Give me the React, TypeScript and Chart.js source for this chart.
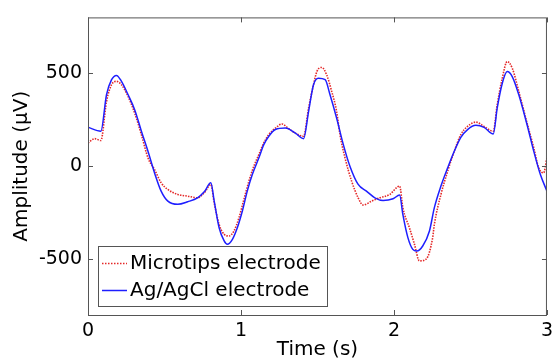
import React, { useEffect, useRef } from "react";
import { Chart, registerables } from "chart.js";

Chart.register(...registerables);

const xTicks = [0, 1, 2, 3];
const yTicks = [-500, 0, 500];
const seriesLabels = ["Microtips electrode", "Ag/AgCl electrode"];

// Microtips electrode (red dotted)
const microT = [0, 0.045, 0.084, 0.121, 0.154, 0.186, 0.219, 0.262, 0.305, 0.349, 0.392, 0.435, 0.478, 0.522, 0.587, 0.652, 0.716, 0.76, 0.803, 0.825, 0.857, 0.89, 0.922, 0.954, 0.987, 1.019, 1.052, 1.084, 1.117, 1.149, 1.182, 1.225, 1.268, 1.312, 1.355, 1.409, 1.442, 1.474, 1.496, 1.528, 1.56, 1.593, 1.625, 1.647, 1.68, 1.723, 1.766, 1.799, 1.853, 1.907, 1.972, 2.037, 2.058, 2.101, 2.134, 2.166, 2.21, 2.253, 2.264, 2.307, 2.351, 2.394, 2.437, 2.481, 2.535, 2.589, 2.649, 2.675, 2.708, 2.74, 2.773, 2.816, 2.87, 2.914, 2.946, 2.978, 3.0];
const microV = [125, 148, 138, 348, 438, 456, 438, 375, 286, 170, 45, -18, -89, -125, -152, -161, -170, -143, -98, -197, -313, -366, -375, -348, -277, -179, -80, 0, 63, 125, 170, 205, 227, 202, 178, 161, 313, 438, 509, 531, 491, 402, 295, 170, 45, -80, -170, -209, -188, -170, -152, -107, -223, -331, -420, -509, -500, -384, -313, -152, -27, 80, 170, 214, 237, 214, 188, 331, 473, 563, 527, 402, 232, 98, -9, -36, 45];

// Ag/AgCl electrode (blue solid)
const agT = [0, 0.084, 0.121, 0.154, 0.186, 0.219, 0.262, 0.305, 0.349, 0.392, 0.435, 0.478, 0.522, 0.587, 0.652, 0.716, 0.76, 0.803, 0.825, 0.857, 0.89, 0.911, 0.944, 0.976, 1.009, 1.041, 1.074, 1.117, 1.149, 1.182, 1.225, 1.29, 1.355, 1.409, 1.442, 1.474, 1.506, 1.55, 1.582, 1.625, 1.669, 1.712, 1.766, 1.82, 1.875, 1.929, 1.994, 2.037, 2.058, 2.091, 2.123, 2.149, 2.188, 2.232, 2.264, 2.307, 2.351, 2.394, 2.437, 2.481, 2.535, 2.589, 2.649, 2.675, 2.708, 2.74, 2.773, 2.816, 2.87, 2.914, 2.957, 3.0];
const agV = [209, 188, 384, 465, 488, 456, 384, 304, 188, 80, -36, -134, -188, -205, -191, -170, -138, -89, -188, -331, -402, -420, -393, -331, -241, -134, -45, 45, 116, 161, 197, 205, 178, 148, 295, 438, 473, 465, 384, 259, 116, 0, -98, -134, -170, -184, -175, -155, -259, -384, -447, -456, -429, -348, -223, -107, -9, 80, 155, 197, 220, 209, 173, 313, 446, 509, 482, 384, 223, 80, -45, -134];

const FONT = "'DejaVu Sans', 'Liberation Sans', sans-serif";
const RED = "rgb(228, 40, 40)";
const BLUE = "rgb(30, 30, 255)";
const FRAME = "#555555";

export default function App() {
  const ref = useRef<HTMLCanvasElement>(null);

  useEffect(() => {
    if (!ref.current) return;

    const framePlugin = {
      id: "frameTicks",
      afterDatasetsDraw(chart: any) {
        const { ctx, chartArea: a, scales } = chart;
        const xs = scales.x;
        const ys = scales.y;
        ctx.save();
        ctx.strokeStyle = FRAME;
        ctx.lineWidth = 1;
        ctx.strokeRect(a.left + 0.5, a.top + 0.5, a.right - a.left - 1, a.bottom - a.top);
        ctx.beginPath();
        const tl = 5;
        xTicks.forEach((v) => {
          const px = Math.round(xs.getPixelForValue(v)) + 0.5;
          ctx.moveTo(px, a.bottom);
          ctx.lineTo(px, a.bottom - tl);
          ctx.moveTo(px, a.top);
          ctx.lineTo(px, a.top + tl);
        });
        yTicks.forEach((v) => {
          const py = Math.round(ys.getPixelForValue(v)) + 0.5;
          ctx.moveTo(a.left, py);
          ctx.lineTo(a.left + tl, py);
          ctx.moveTo(a.right, py);
          ctx.lineTo(a.right - tl, py);
        });
        ctx.stroke();
        ctx.restore();
      },
    };

    const legendPlugin = {
      id: "boxLegend",
      afterDraw(chart: any) {
        const { ctx, chartArea: a } = chart;
        const x0 = a.left + 10;
        const y0 = 246;
        const w = 229;
        const h = 60;
        ctx.save();
        ctx.fillStyle = "#ffffff";
        ctx.fillRect(x0, y0, w, h);
        ctx.strokeStyle = FRAME;
        ctx.lineWidth = 1;
        ctx.strokeRect(x0 + 0.5, y0 + 0.5, w, h);
        const rows = [y0 + 17, y0 + 44];
        const styles = [
          { color: RED, dash: [1.5, 1.5], width: 1.5 },
          { color: BLUE, dash: [], width: 1.5 },
        ];
        rows.forEach((ry, i) => {
          ctx.beginPath();
          ctx.setLineDash(styles[i].dash);
          ctx.strokeStyle = styles[i].color;
          ctx.lineWidth = styles[i].width;
          ctx.moveTo(x0 + 4, ry + 0.5);
          ctx.lineTo(x0 + 29, ry + 0.5);
          ctx.stroke();
          ctx.setLineDash([]);
          ctx.fillStyle = "#000000";
          ctx.font = `20px ${FONT}`;
          ctx.textAlign = "left";
          ctx.textBaseline = "middle";
          ctx.fillText(seriesLabels[i], x0 + 32, ry + 1);
        });
        ctx.restore();
      },
    };

    const chart = new Chart(ref.current, {
      type: "line",
      data: {
        datasets: [
          {
            label: seriesLabels[0],
            data: microT.map((t, i) => ({ x: t, y: microV[i] })),
            borderColor: RED,
            borderWidth: 1.6,
            borderDash: [1.5, 1.2],
            pointRadius: 0,
            cubicInterpolationMode: "monotone",
            fill: false,
            order: 1,
          },
          {
            label: seriesLabels[1],
            data: agT.map((t, i) => ({ x: t, y: agV[i] })),
            borderColor: BLUE,
            borderWidth: 1.5,
            pointRadius: 0,
            cubicInterpolationMode: "monotone",
            fill: false,
            order: 0,
          },
        ],
      },
      options: {
        animation: false,
        responsive: true,
        maintainAspectRatio: false,
        layout: { padding: { top: 15, right: 7, left: 0, bottom: 0 } },
        plugins: {
          legend: { display: false },
          tooltip: { enabled: false },
          title: { display: false },
        },
        scales: {
          x: {
            type: "linear",
            min: 0,
            max: 3,
            afterBuildTicks: (s: any) => {
              s.ticks = xTicks.map((v) => ({ value: v }));
            },
            afterFit: (s: any) => {
              s.height = 47;
            },
            grid: { display: false, drawTicks: false },
            border: { display: false },
            ticks: {
              color: "#000",
              font: { family: FONT, size: 19 },
              padding: 5,
              maxRotation: 0,
              callback: (v: any) => String(v),
            },
            title: {
              display: true,
              text: "Time (s)",
              color: "#000",
              font: { family: FONT, size: 20 },
              padding: { top: 0, bottom: 0 },
            },
          },
          y: {
            type: "linear",
            min: -800,
            max: 800,
            afterBuildTicks: (s: any) => {
              s.ticks = yTicks.map((v) => ({ value: v }));
            },
            afterFit: (s: any) => {
              s.width = 88;
            },
            grid: { display: false, drawTicks: false },
            border: { display: false },
            ticks: {
              color: "#000",
              font: { family: FONT, size: 19 },
              padding: 6,
              callback: (v: any) => String(v),
            },
            title: {
              display: true,
              text: "Amplitude (μV)",
              color: "#000",
              font: { family: FONT, size: 20 },
              padding: { top: 10, bottom: 0 },
            },
          },
        },
      },
      plugins: [framePlugin, legendPlugin],
    });

    return () => chart.destroy();
  }, []);

  return (
    <div style={{ position: "fixed", left: 0, top: 0, width: 558, height: 362, background: "#fff" }}>
      <canvas ref={ref} />
    </div>
  );
}
